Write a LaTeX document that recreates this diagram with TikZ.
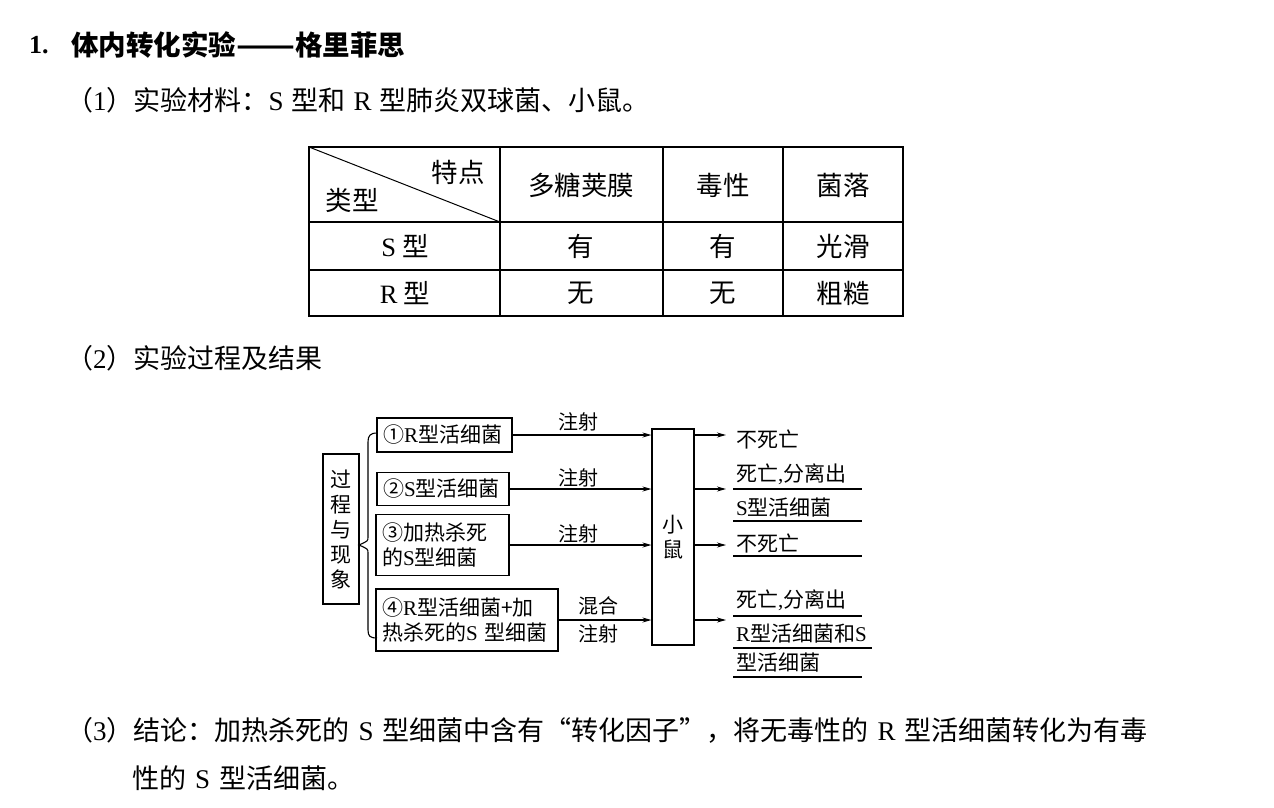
\documentclass[tikz,border=0pt]{standalone}
\usepackage{fontspec}
\setmainfont{Noto Sans CJK SC}
\newfontfamily\lat{Liberation Serif}
\usetikzlibrary{arrows.meta}
\begin{document}
\begin{tikzpicture}[x=1pt,y=-1pt,
  body/.style={inner sep=0pt, font=\fontsize{27}{30}\selectfont},
  cell/.style={inner sep=0pt, font=\fontsize{26.5}{30}\selectfont},
  dtext/.style={inner sep=0pt, font=\fontsize{20}{24}\selectfont},
  rtext/.style={inner sep=0pt, anchor=west, font=\fontsize{21}{24}\selectfont},
  dbox/.style={draw, line width=1.2pt, inner xsep=6pt, inner ysep=0pt, align=left, font=\fontsize{21}{25}\selectfont},
  vbox/.style={draw, line width=1.2pt, inner sep=0pt, align=center, font=\fontsize{21}{25}\selectfont},
  arr/.style={line width=1.1pt, -{Stealth[length=9pt,width=5pt]}},
  tl/.style={line width=1.5pt},
  ul/.style={line width=1.2pt}]
\fill[white] (0,0) rectangle (1274,807);
\useasboundingbox (0,0) rectangle (1274,807);

% title and headings
\node[anchor=west, inner sep=0pt, font=\fontsize{26}{30}\selectfont\lat\bfseries] (num) at (29,45) {1.};
\node[anchor=west, inner sep=0pt, font=\fontsize{27.5}{30}\selectfont\bfseries] (title) at (71,45) {体内转化实验\scalebox{1.25}[1]{——}格里菲思};
\node[body, anchor=west] (l1) at (66,100) {（{\lat 1}）实验材料：{\lat S}\hspace{8pt}型和\hspace{8pt}{\lat R}\hspace{8pt}型肺炎双球菌、小鼠。};
\node[body, anchor=west] (l2) at (66,358) {（{\lat 2}）实验过程及结果};

% table
\draw[tl] (309,147) rectangle (903,316);
\draw[tl] (309,222) -- (903,222);
\draw[tl] (309,270) -- (903,270);
\draw[tl] (500,147) -- (500,316);
\draw[tl] (663,147) -- (663,316);
\draw[tl] (783,147) -- (783,316);
\draw[line width=1pt] (309,147) -- (500,222);
\node[cell] (h0a) at (458,172) {特点};
\node[cell] (h0b) at (352,200) {类型};
\node[cell] (h1) at (581,185) {多糖荚膜};
\node[cell] (h2) at (723,185) {毒性};
\node[cell] (h3) at (843,185) {菌落};
\node[cell] (s0) at (405,246) {{\lat S} 型};
\node[cell] (s1) at (581,246) {有};
\node[cell] (s2) at (723,246) {有};
\node[cell] (s3) at (843,246) {光滑};
\node[cell] (r0) at (405,293) {{\lat R} 型};
\node[cell] (r1) at (581,293) {无};
\node[cell] (r2) at (723,293) {无};
\node[cell] (r3) at (843,293) {粗糙};

% diagram
\node[vbox, minimum width=36pt, minimum height=150pt] (lb) at (341,529) {过\\程\\与\\现\\象};
\node[dbox, text width=123pt, minimum height=34pt] (b1) at (444.5,435) {①{\lat R}型活细菌};
\node[dbox, text width=120pt, minimum height=33pt] (b2) at (443,489) {②{\lat S}型活细菌};
\node[dbox, text width=121pt, minimum height=61pt] (b3) at (442.5,545) {③加热杀死\\的{\lat S}型细菌};
\node[dbox, text width=170pt, minimum height=62pt] (b4) at (467,620) {④{\lat R}型活细菌+加\\热杀死的{\lat S} 型细菌};
\node[vbox, minimum width=42pt, minimum height=216pt] (m) at (673,537) {小\\鼠};

\draw[line width=1.1pt] (377,433) .. controls (370,433) and (368,436) .. (368,442) -- (368,537) .. controls (368,541) .. (359,545) .. controls (368,549) .. (368,553) -- (368,630) .. controls (368,636) and (370,638) .. (377,638);

\draw[arr] (b1.east) -- (b1.east -| m.west);
\draw[arr] (b2.east) -- (b2.east -| m.west);
\draw[arr] (b3.east) -- (b3.east -| m.west);
\draw[arr] (b4.east) -- (b4.east -| m.west);
\node[dtext] (z1) at (578,422) {注射};
\node[dtext] (z2) at (578,478) {注射};
\node[dtext] (z3) at (578,534) {注射};
\node[dtext] (hh) at (598,606) {混合};
\node[dtext] (z4) at (598,634) {注射};

\coordinate (o1) at (726,435);
\coordinate (o2) at (726,489);
\coordinate (o3) at (726,545);
\coordinate (o4) at (726,620);
\draw[arr] (m.east |- o1) -- (o1);
\draw[arr] (m.east |- o2) -- (o2);
\draw[arr] (m.east |- o3) -- (o3);
\draw[arr] (m.east |- o4) -- (o4);

\node[rtext] (t1) at (736,439) {不死亡};
\node[rtext] (t2) at (736,474) {死亡{\lat ,}分离出};
\node[rtext] (t3) at (736,507) {{\lat S}型活细菌};
\node[rtext] (t4) at (736,543) {不死亡};
\node[rtext] (t5) at (736,600) {死亡{\lat ,}分离出};
\node[rtext] (t6) at (736,633) {{\lat R}型活细菌和{\lat S}};
\node[rtext] (t7) at (736,662) {型活细菌};
\draw[ul] (733,489) -- (862,489);
\draw[ul] (733,521) -- (862,521);
\draw[ul] (733,556) -- (862,556);
\draw[ul] (733,616) -- (862,616);
\draw[ul] (733,648) -- (872,648);
\draw[ul] (733,677) -- (862,677);

% conclusion
\node[body, anchor=west] (c1) at (66,730) {（{\lat 3}）结论：加热杀死的\hspace{9pt}{\lat S}\hspace{9pt}型细菌中含有“转化因子”，将无毒性的\hspace{9pt}{\lat R}\hspace{9pt}型活细菌转化为有毒};
\node[body, anchor=west] (c2) at (132,778) {性的\hspace{9pt}{\lat S}\hspace{9pt}型活细菌。};
\end{tikzpicture}
\end{document}
